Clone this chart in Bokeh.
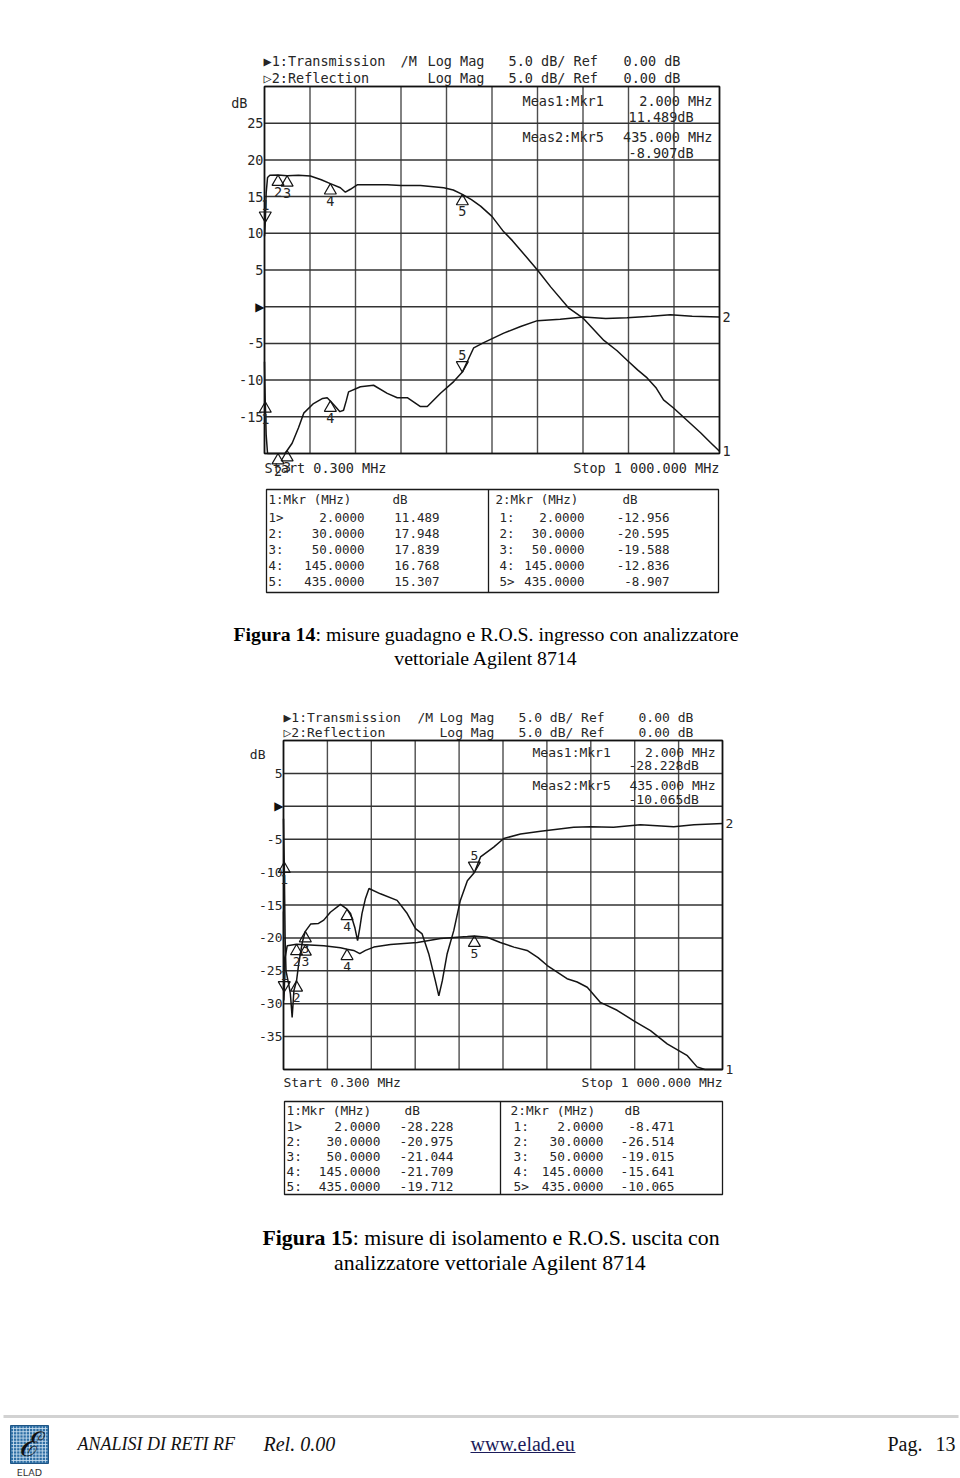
import numpy as np
from bokeh.plotting import figure
from bokeh.models import Range1d, Label, LabelSet, ColumnDataSource, Grid
from bokeh.layouts import column
from bokeh.core.properties import value
from bokeh.embed import file_html
from bokeh.resources import INLINE

# ---------------------------------------------------------------- data
start_mhz = 0.3
stop_mhz = 1000.0
scale_db_div = 5.0
ref_db = 0.0

mkr_freq = [2.0, 30.0, 50.0, 145.0, 435.0]

# Figura 14 : gain (trace 1) and input return loss (trace 2)
f14_trans_mhz = [0.3, 1.0, 2.0, 4.0, 7.0, 12.0, 30.0, 50.0, 75.0, 101.0, 125.0, 145.0,
                 167.0, 178.0, 189.0, 204.0, 240.0, 270.0, 300.0, 343.0, 394.0, 415.0,
                 435.0, 455.0, 475.0, 500.0, 526.0, 545.0, 563.0, 600.0, 629.0, 669.0,
                 701.0, 725.0, 746.0, 775.0, 797.0, 820.0, 841.0, 860.0, 877.0, 899.0,
                 929.0, 959.0, 980.0, 1000.0]
f14_trans_db = [9.6, 10.3, 11.489, 15.5, 17.6, 17.9, 17.948, 17.839, 17.9, 17.8, 17.3, 16.768,
                16.2, 15.6, 16.0, 16.6, 16.6, 16.6, 16.5, 16.5, 16.2, 15.9,
                15.307, 14.6, 13.7, 12.3, 10.2, 9.0, 7.7, 5.0, 2.7, -0.2,
                -1.6, -3.2, -4.6, -6.0, -7.3, -8.6, -9.7, -11.0, -12.7, -13.8,
                -15.5, -17.2, -18.5, -19.7]
f14_refl_mhz = [0.3, 1.0, 2.0, 4.0, 7.0, 30.0, 45.0, 50.0, 61.0, 75.0, 86.5, 108.0, 128.0,
                138.0, 145.0, 156.0, 166.0, 174.0, 180.0, 185.0, 211.0, 240.0, 270.0, 292.0,
                314.0, 343.0, 358.0, 387.0, 416.0, 435.0, 448.0, 460.0, 482.0, 526.0, 563.0,
                600.0, 650.0, 701.0, 750.0, 797.0, 850.0, 892.0, 940.0, 1000.0]
f14_refl_db = [-7.5, -10.5, -12.956, -17.5, -21.0, -20.595, -20.1, -19.588, -18.6, -16.5, -14.5,
               -13.2, -12.5, -12.4, -12.836, -13.6, -14.3, -14.1, -12.8, -11.6, -10.9, -10.7,
               -11.8, -12.4, -12.4, -13.6, -13.6, -11.8, -10.2, -8.907, -7.2, -5.6, -4.9,
               -3.6, -2.7, -1.9, -1.7, -1.4, -1.6, -1.5, -1.3, -1.1, -1.3, -1.4]
f14_mkr_trans = [11.489, 17.948, 17.839, 16.768, 15.307]
f14_mkr_refl = [-12.956, -20.595, -19.588, -12.836, -8.907]

# Figura 15 : isolation (trace 1) and output return loss (trace 2)
f15_trans_mhz = [0.3, 1.0, 2.0, 4.0, 8.7, 30.0, 50.0, 92.0, 130.0, 145.0, 160.0, 174.0, 187.0,
                 206.0, 244.0, 305.0, 358.0, 419.0, 435.0, 464.0, 494.0, 525.0, 555.0, 580.0,
                 601.0, 646.0, 669.0, 692.0, 722.0, 760.0, 798.0, 836.0, 874.0, 920.0, 942.0,
                 960.0, 1000.0]
f15_trans_db = [-16.0, -29.5, -28.228, -23.0, -21.2, -20.975, -21.044, -21.2, -21.5, -21.709,
                -21.9, -22.4, -21.9, -21.4, -21.0, -20.7, -20.1, -19.8, -19.712, -19.9, -20.7,
                -21.4, -21.9, -23.0, -24.2, -26.2, -26.7, -27.5, -29.8, -31.0, -32.6, -34.1,
                -36.1, -37.9, -39.6, -40.5, -41.0]
f15_refl_mhz = [0.3, 1.0, 2.0, 4.0, 6.0, 12.0, 16.0, 20.0, 24.0, 30.0, 35.0, 43.0, 50.0, 62.0,
                80.0, 92.0, 107.0, 130.0, 145.0, 153.0, 163.0, 169.0, 174.0, 179.0, 187.0,
                195.0, 221.0, 259.0, 282.0, 301.0, 316.0, 331.0, 346.0, 354.0, 362.0, 373.0,
                388.0, 403.0, 419.0, 435.0, 449.0, 479.0, 502.0, 540.0, 586.0, 661.0, 699.0,
                752.0, 813.0, 889.0, 935.0, 1000.0]
f15_refl_db = [-1.9, -5.0, -8.471, -20.0, -25.0, -27.0, -28.5, -32.1, -28.0, -26.514, -23.9,
               -20.7, -19.015, -17.9, -17.8, -17.3, -16.1, -14.9, -15.641, -16.3, -18.5, -20.4,
               -18.5, -16.3, -14.0, -12.5, -13.3, -14.3, -16.3, -18.6, -19.4, -22.4, -26.5,
               -28.8, -26.5, -22.4, -18.9, -14.3, -11.3, -10.065, -7.7, -6.2, -4.9, -4.2,
               -3.8, -3.2, -3.1, -3.2, -2.8, -3.1, -2.8, -2.6]
f15_mkr_trans = [-28.228, -20.975, -21.044, -21.709, -19.712]
f15_mkr_refl = [-8.471, -26.514, -19.015, -15.641, -10.065]

active_mkr = [0, 4]          # Meas1:Mkr1 on trace 1, Meas2:Mkr5 on trace 2

caption14 = ("Figura 14", ": misure guadagno e R.O.S. ingresso con analizzatore",
             "vettoriale Agilent 8714")
caption15 = ("Figura 15", ": misure di isolamento e R.O.S. uscita con",
             "analizzatore vettoriale Agilent 8714")

# ---------------------------------------------------------------- style / layout
W = 960
MONO = "DejaVu Sans Mono"
SERIF = "Liberation Serif"
INK = "#262626"


def strip_grids(p):
    p.center = [c for c in p.center if not isinstance(c, Grid)]


def put(p, cfg, text, px, py, align="left", size=None):
    left, right, top, bottom = cfg["frame"]
    p.add_layout(Label(x=start_mhz, y=cfg["db_range"][1], x_offset=px - left, y_offset=top - py,
                       text=text, text_align=align, text_baseline="middle",
                       text_font=MONO, text_font_size=size or cfg["fs"], text_color=INK))


def make_chart(cfg, traces, mkr_vals):
    left, right, top, bottom = cfg["frame"]          # page pixels of the graticule
    ctop, h = cfg["canvas_top"], cfg["height"]
    ymin, ymax = cfg["db_range"]
    fs = cfg["fs"]
    mpp = (stop_mhz - start_mhz) / (right - left)
    dpp = (ymax - ymin) / (bottom - top)
    xr = Range1d(start_mhz - left * mpp, stop_mhz + (W - right) * mpp)
    yr = Range1d(ymin - (ctop + h - bottom) * dpp, ymax + (top - ctop) * dpp)
    p = figure(width=W, height=h, x_range=xr, y_range=yr, x_axis_location=None,
               y_axis_location=None, toolbar_location=None, output_backend="svg",
               min_border=0, min_border_left=0, min_border_right=0, min_border_top=0,
               min_border_bottom=0)
    strip_grids(p)
    p.outline_line_color = None

    # graticule (10 x 10 divisions)
    xt = [float(v) for v in np.linspace(start_mhz, stop_mhz, 11)]
    yt = [float(v) for v in np.arange(ymin, ymax + 1, scale_db_div)]
    p.segment(x0=xt, y0=[ymin] * len(xt), x1=xt, y1=[ymax] * len(xt),
              line_color="#4d4d4d", line_width=1.4)
    p.segment(x0=[start_mhz] * len(yt), y0=yt, x1=[stop_mhz] * len(yt), y1=yt,
              line_color="#333333", line_width=1.5)
    p.quad(left=[start_mhz], right=[stop_mhz], bottom=[ymin], top=[ymax], fill_color=None,
           line_color="#111111", line_width=1.6)

    # y tick labels, reference level shown as a filled arrow
    yl = [v for v in cfg["yticks"] if v != ref_db]
    tsrc = ColumnDataSource(dict(x=[start_mhz] * len(yl), y=yl, t=[f"{v:g}" for v in yl]))
    p.add_layout(LabelSet(x="x", y="y", text="t", source=tsrc, x_offset=-1,
                          text_align=value("right"), text_baseline=value("middle"),
                          text_font=value(MONO), text_font_size=value(fs),
                          text_color=value(INK)))
    p.add_layout(Label(x=start_mhz, y=ref_db, x_offset=0, text="\u25B6", text_align="right",
                       text_baseline="middle", text_font="DejaVu Sans", text_font_size="12px",
                       text_color="#111111"))

    ppd = (bottom - top) / (ymax - ymin)
    tip = 6 * np.sqrt(3) * 2 / 3
    for ti, (fq, db) in enumerate(traces):
        disp = np.clip(np.array(db), ymin, ymax)
        p.line(fq, disp, line_color="#141414", line_width=1.5)
        mv = np.clip(np.array(mkr_vals[ti]), ymin, ymax)
        act = active_mkr[ti]
        up = [i for i in range(len(mkr_freq)) if i != act]
        p.scatter(x=[mkr_freq[i] for i in up], y=[mv[i] - tip / ppd for i in up],
                  marker="triangle", size=12, fill_color=None, line_color="#141414",
                  line_width=1.2)
        p.scatter(x=[mkr_freq[act]], y=[mv[act] + tip / ppd], marker="inverted_triangle",
                  size=12, fill_color=None, line_color="#141414", line_width=1.2)
        src_dn = ColumnDataSource(dict(x=[mkr_freq[i] for i in up], y=[mv[i] for i in up],
                                       t=[str(i + 1) for i in up]))
        src_up = ColumnDataSource(dict(x=[mkr_freq[act]], y=[mv[act]], t=[str(act + 1)]))
        for src, off in ((src_dn, -17), (src_up, 17)):
            p.add_layout(LabelSet(x="x", y="y", text="t", source=src, y_offset=off,
                                  text_align=value("center"), text_baseline=value("middle"),
                                  text_font=value(MONO), text_font_size=value(fs),
                                  text_color=value(INK)))
        p.add_layout(Label(x=stop_mhz, y=float(disp[-1]), x_offset=cfg["end_dx"],
                           text=str(ti + 1), text_align="left", text_baseline="middle",
                           text_font=MONO, text_font_size=fs, text_color=INK))

    # header
    hx = cfg["hdr_x"]
    y1, y2 = cfg["hdr_y"]
    sc = f"{scale_db_div:.1f} dB/ Ref"
    rf = f"{ref_db:.2f} dB"
    put(p, cfg, "\u25B61:Transmission", hx[0], y1)
    put(p, cfg, "/M", hx[1], y1)
    put(p, cfg, "Log Mag", hx[2], y1)
    put(p, cfg, sc, hx[3], y1)
    put(p, cfg, rf, hx[4], y1)
    put(p, cfg, "\u25B72:Reflection", hx[0], y2)
    put(p, cfg, "Log Mag", hx[2], y2)
    put(p, cfg, sc, hx[3], y2)
    put(p, cfg, rf, hx[4], y2)

    # measurement readout
    mxl, mxv, mxr = cfg["meas_x"]
    my = cfg["meas_y"]
    a1, a2 = active_mkr
    put(p, cfg, f"Meas1:Mkr{a1 + 1}", mxl, my[0])
    put(p, cfg, f"{mkr_freq[a1]:.3f} MHz", mxr, my[0], align="right")
    put(p, cfg, f"{mkr_vals[0][a1]:.3f}dB", mxv, my[1])
    put(p, cfg, f"Meas2:Mkr{a2 + 1}", mxl, my[2])
    put(p, cfg, f"{mkr_freq[a2]:.3f} MHz", mxr, my[2], align="right")
    put(p, cfg, f"{mkr_vals[1][a2]:.3f}dB", mxv, my[3])

    put(p, cfg, "dB", cfg["db_lbl"][0], cfg["db_lbl"][1], align="right")
    put(p, cfg, f"Start {start_mhz:.3f} MHz", left, cfg["ss_y"])
    put(p, cfg, "Stop " + f"{stop_mhz:,.3f}".replace(",", " ") + " MHz", right, cfg["ss_y"],
        align="right")
    return p


def px_fig(h):
    p = figure(width=W, height=h, x_range=Range1d(0, W), y_range=Range1d(h, 0),
               x_axis_location=None, y_axis_location=None, toolbar_location=None,
               output_backend="svg", min_border=0, min_border_left=0, min_border_right=0,
               min_border_top=0, min_border_bottom=0)
    strip_grids(p)
    p.outline_line_color = None
    return p


def txt(p, xs, ys, texts, font=MONO, size="13px", align="left", color=INK, style="normal"):
    p.text(x=xs, y=ys, text=texts, text_font=value(font), text_font_size=value(size),
           text_align=value(align), text_baseline=value("middle"), text_color=value(color),
           text_font_style=value(style))


def make_table(cfg, mkr_vals):
    l, r, t, b = cfg["box"]
    ctop, h = cfg["canvas_top"], cfg["height"]
    p = px_fig(h)
    p.quad(left=[l], right=[r], top=[t - ctop], bottom=[b - ctop], fill_color=None,
           line_color="#1a1a1a", line_width=1.3)
    p.segment(x0=[cfg["divider"]], y0=[t - ctop], x1=[cfg["divider"]], y1=[b - ctop],
              line_color="#1a1a1a", line_width=1.3)
    ry = [t - ctop + v for v in cfg["rows_y"]]
    fs = cfg["fs"]
    for ti, half in enumerate(cfg["halves"]):
        act = active_mkr[ti]
        txt(p, [half["lab"]], [ry[0]], [f"{ti + 1}:Mkr (MHz)"], size=fs)
        txt(p, [half["hdb"]], [ry[0]], ["dB"], size=fs)
        labs = [f"{i + 1}>" if i == act else f"{i + 1}:" for i in range(len(mkr_freq))]
        txt(p, [half["row"]] * 5, ry[1:], labs, size=fs)
        txt(p, [half["fr"]] * 5, ry[1:], [f"{f:.4f}" for f in mkr_freq], size=fs,
            align="right")
        txt(p, [half["dbr"]] * 5, ry[1:], [f"{v:.3f}" for v in mkr_vals[ti]], size=fs,
            align="right")
    return p


def caption(p, cap, x1, y1, xc, y2, size):
    fs = f"{size}px"
    txt(p, [x1], [y1], [cap[0]], font=SERIF, size=fs, style="bold", color="#000000")
    bold_w = 4.139 * size
    txt(p, [x1 + bold_w], [y1], [cap[1]], font=SERIF, size=fs, color="#000000")
    txt(p, [xc], [y2], [cap[2]], font=SERIF, size=fs, color="#000000", align="center")


# ---------------------------------------------------------------- chart 1
cfg1 = dict(canvas_top=0, height=480, frame=(264, 719, 86, 453), db_range=(-20, 30),
            yticks=[-15, -10, -5, 0, 5, 10, 15, 20, 25], fs="13.5px",
            hdr_x=[263, 400, 427, 508, 623], hdr_y=(60, 77),
            meas_x=(522, 628, 712), meas_y=(100, 116, 136, 152),
            db_lbl=(247, 102), ss_y=467, end_dx=3)
p1 = make_chart(cfg1, [(f14_trans_mhz, f14_trans_db), (f14_refl_mhz, f14_refl_db)],
                [f14_mkr_trans, f14_mkr_refl])

t1cfg = dict(canvas_top=480, height=120, box=(266, 718, 489, 592), divider=488,
             rows_y=[10, 28, 44, 60, 76, 92], fs="12.5px",
             halves=[dict(lab=268, hdb=392, row=268, fr=364, dbr=439),
                     dict(lab=495, hdb=622, row=499, fr=584, dbr=669)])
t1 = make_table(t1cfg, [f14_mkr_trans, f14_mkr_refl])

c1 = px_fig(80)
caption(c1, caption14, 233, 33, 485.5, 57, 19.8)

# ---------------------------------------------------------------- chart 2
cfg2 = dict(canvas_top=680, height=415, frame=(283, 722, 740, 1069), db_range=(-40, 10),
            yticks=[-35, -30, -25, -20, -15, -10, -5, 0, 5], fs="13px",
            hdr_x=[283, 417, 439, 518, 638], hdr_y=(717, 732),
            meas_x=(532, 628, 715), meas_y=(752, 765, 785, 799),
            db_lbl=(265, 754), ss_y=1082, end_dx=3)
p2 = make_chart(cfg2, [(f15_trans_mhz, f15_trans_db), (f15_refl_mhz, f15_refl_db)],
                [f15_mkr_trans, f15_mkr_refl])

t2cfg = dict(canvas_top=1095, height=105, box=(284, 722, 1101, 1194), divider=500,
             rows_y=[9, 25, 40, 55, 70, 85], fs="12.8px",
             halves=[dict(lab=286, hdb=404, row=286, fr=380, dbr=453),
                     dict(lab=510, hdb=624, row=513, fr=603, dbr=674)])
t2 = make_table(t2cfg, [f15_mkr_trans, f15_mkr_refl])

# ---------------------------------------------------------------- caption 2 + footer
c2 = px_fig(278)
caption(c2, caption15, 262, 37, 490, 62, 21.8)
c2.segment(x0=[3], y0=[216], x1=[958], y1=[216], line_color="#d2d2d2", line_width=3)
# logo
c2.quad(left=[10], right=[48], top=[225], bottom=[263], fill_color="#2e6fa5",
        line_color="#1f5585", line_width=1)
gx = [float(v) for v in np.arange(13, 48, 3.2)]
gy = [float(v) for v in np.arange(228, 263, 3.2)]
c2.segment(x0=gx, y0=[226] * len(gx), x1=gx, y1=[262] * len(gx), line_color="#cfe3f3",
           line_width=0.8)
c2.segment(x0=[11] * len(gy), y0=gy, x1=[47] * len(gy), y1=gy, line_color="#cfe3f3",
           line_width=0.8)
txt(c2, [29], [244], ["\u2130"], font=SERIF, size="34px", align="center", color="#111111",
    style="italic")
txt(c2, [29], [272], ["ELAD"], font="DejaVu Sans", size="9.5px", align="center",
    color="#333333")
txt(c2, [77], [243], ["ANALISI DI RETI RF"], font=SERIF, size="18px", color="#111111",
    style="italic")
txt(c2, [263], [243], ["Rel. 0.00"], font=SERIF, size="20px", color="#111111",
    style="italic")
txt(c2, [470], [243], ["www.elad.eu"], font=SERIF, size="20px", color="#1c1c5a")
c2.segment(x0=[470], y0=[252], x1=[575], y1=[252], line_color="#1c1c5a", line_width=1.2)
txt(c2, [887], [243], ["Pag."], font=SERIF, size="20px", color="#111111")
txt(c2, [955], [243], ["13"], font=SERIF, size="20px", color="#111111", align="right")

layout = column(p1, t1, c1, p2, t2, c2, spacing=0)
open("out.html", "w").write(file_html(layout, INLINE))
